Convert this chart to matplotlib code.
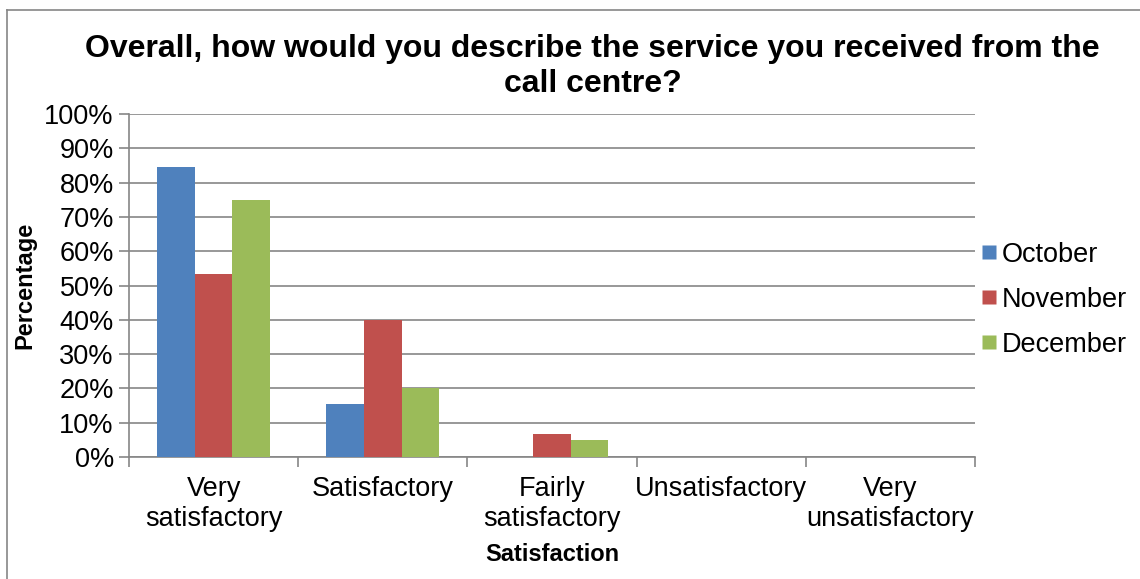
import numpy as np
import matplotlib.pyplot as plt
from matplotlib.lines import Line2D

plt.rcParams['font.family'] = ['Liberation Sans', 'DejaVu Sans']

categories = ["Very\nsatisfactory", "Satisfactory", "Fairly\nsatisfactory",
              "Unsatisfactory", "Very\nunsatisfactory"]
october = [84.6, 15.4, 0, 0, 0]
november = [53.3, 40.0, 6.7, 0, 0]
december = [75.0, 20.0, 5.0, 0, 0]
series_names = ["October", "November", "December"]
colors = ["#4F81BD", "#C0504D", "#9BBB59"]

fig = plt.figure(figsize=(11.4, 5.79), dpi=100)
ax = fig.add_axes([0.1132, 0.2107, 0.742, 0.5923])

x = np.arange(len(categories))
w = 0.222
for i, (vals, name, c) in enumerate(zip([october, november, december], series_names, colors)):
    ax.bar(x + (i - 1) * w, vals, width=w, color=c, edgecolor='none', label=name, zorder=3)

ax.set_xlim(-0.5, len(categories) - 0.5)
ax.set_ylim(0, 100)
ax.set_yticks(np.arange(0, 101, 10))
ax.set_yticklabels([f"{v}%" for v in range(0, 101, 10)], fontsize=19.5)
ax.yaxis.grid(True, color='#868686', linewidth=1.2, zorder=0)

# x ticks at category boundaries, labels at centres
ax.set_xticks(np.arange(-0.5, len(categories), 1.0))
ax.set_xticklabels([])
ax.set_xticks(x, minor=True)
ax.set_xticklabels(categories, minor=True, fontsize=19.5, linespacing=1.17)
ax.tick_params(axis='x', which='minor', length=0, pad=14)
ax.tick_params(axis='x', which='major', length=7, color='#868686', width=1.2)
ax.tick_params(axis='y', length=7, color='#868686', width=1.2, pad=4)

for s in ['top', 'right']:
    ax.spines[s].set_visible(False)
for s in ['left', 'bottom']:
    ax.spines[s].set_color('#868686')
    ax.spines[s].set_linewidth(1.2)

ax.set_xlabel("Satisfaction", fontsize=17, fontweight='bold', labelpad=8)
ax.set_ylabel("Percentage", fontsize=17, fontweight='bold', labelpad=6)
fig.text(0.52, 0.885, "Overall, how would you describe the service you received from the\ncall centre?",
         ha='center', va='center', fontsize=23, fontweight='bold', linespacing=1.25)

handles = [Line2D([0], [0], marker='s', linestyle='none', markersize=10,
                  markerfacecolor=c, markeredgecolor='none') for c in colors]
fig.legend(handles, series_names, loc='center left', bbox_to_anchor=(0.837, 0.482),
           frameon=False, fontsize=19.5, handletextpad=0.05, labelspacing=0.7,
           handlelength=0.8)

# outer chart frame
fig.add_artist(Line2D([7 / 1140, 7 / 1140], [0, 1 - 10 / 579], color='#868686', linewidth=1.2))
fig.add_artist(Line2D([7 / 1140, 1], [1 - 10 / 579, 1 - 10 / 579], color='#868686', linewidth=1.2))

fig.savefig("out.png", dpi=100)
